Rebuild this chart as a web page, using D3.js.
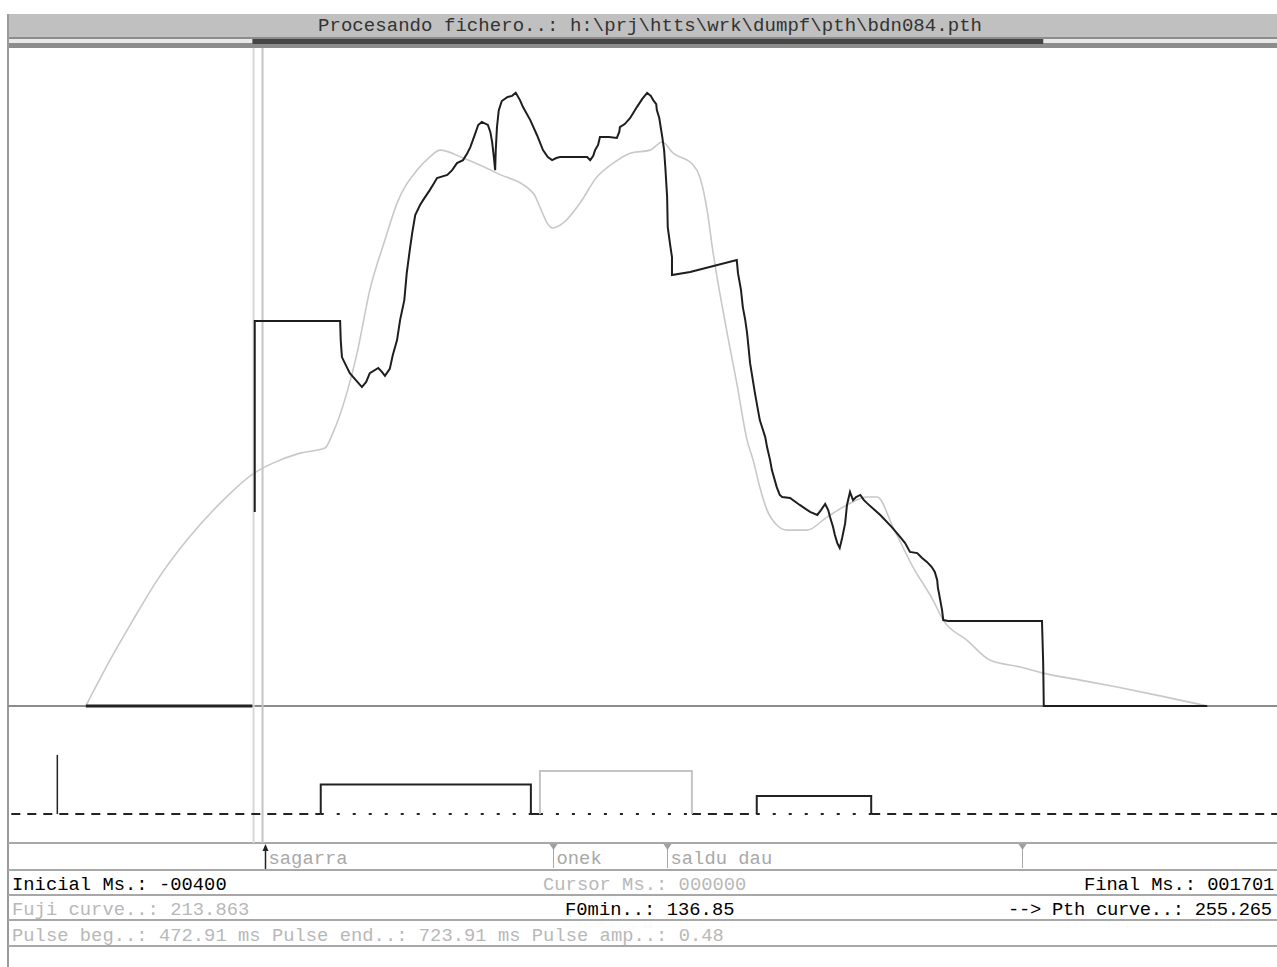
<!DOCTYPE html>
<html><head><meta charset="utf-8">
<script src="https://cdn.jsdelivr.net/npm/d3@7"></script>
<style>html,body{margin:0;padding:0;background:#fff;overflow:hidden}svg{display:block}</style>
</head><body>
<script>
// ---------- DATA ----------
const msDomain = [-400, 1701];          // Inicial Ms / Final Ms
const f0Min = 136.85;
const f0Max = 354;
const cursorMs = 0;
const titleText = "Procesando fichero..: h:\\prj\\htts\\wrk\\dumpf\\pth\\bdn084.pth";

// Pth curve (ms, Hz) – two drawn pieces
const pthLow = [[-277,136.85],[-2,136.85]];
const pthMain = [
[2,200.9],[2,263.9],[143,263.9],[144,257.6],[146,252.0],[153,249.1],[159,246.7],[169,244.4],[179,242.1],[186,243.8],[192,246.7],[206,248.4],[212,247.1],[217,245.8],[225,248.1],[230,252.7],[237,257.6],[242,264.2],[249,270.8],[253,279.7],[258,287.3],[262,292.9],[267,298.9],[275,302.2],[280,303.8],[291,307.1],[298,309.4],[303,311.1],[320,312.1],[328,313.7],[336,316.0],[346,317.0],[353,319.3],[358,321.3],[364,324.6],[371,328.6],[377,329.6],[387,328.6],[391,326.3],[394,323.0],[397,317.7],[399,313.7],[400,320.3],[402,327.9],[405,333.5],[410,336.5],[419,337.8],[427,338.2],[433,339.2],[440,336.8],[445,334.5],[457,330.2],[468,325.3],[478,320.3],[486,318.0],[493,317.0],[500,317.7],[506,318.0],[551,318.0],[556,317.0],[561,318.4],[564,320.3],[569,322.0],[572,324.6],[587,324.6],[600,324.3],[604,326.3],[605,327.9],[613,328.9],[622,330.9],[628,332.9],[633,334.5],[642,337.2],[650,339.2],[656,338.2],[660,336.8],[665,335.5],[666,333.5],[670,330.9],[675,324.6],[678,320.3],[680,314.7],[683,304.8],[684,294.9],[688,289.0],[691,285.0],[691,279.1],[721,280.1],[798,284.0],[800,279.7],[805,274.1],[808,268.5],[812,264.2],[815,260.0],[820,250.0],[828,240.1],[836,231.2],[845,225.6],[848,222.3],[853,218.0],[856,214.7],[864,209.1],[869,206.5],[873,205.8],[886,205.5],[902,203.2],[919,200.9],[931,199.9],[937,201.5],[944,203.5],[949,201.5],[952,199.2],[957,195.9],[960,193.3],[964,190.6],[968,189.0],[972,192.3],[977,197.2],[980,203.2],[985,207.5],[990,204.8],[995,205.8],[1002,206.5],[1008,204.8],[1013,203.8],[1035,199.9],[1054,195.9],[1068,192.6],[1076,190.6],[1084,187.7],[1096,187.3],[1104,185.7],[1112,184.4],[1120,182.7],[1125,181.1],[1129,178.4],[1130,176.1],[1134,171.8],[1137,168.5],[1139,165.2],[1147,164.9],[1302,164.9],[1304,151.0],[1305,136.85],[1575,136.85]
];

// Fujisaki curve (ms, Hz)
const fuji = [
[-277,136.85],[-237,152.0],[-199,165.2],[-159,178.4],[-110,191.6],[-50,204.8],[1,213.7],[32,217.0],[77,220.3],[118,222.0],[131,226.9],[154,240.1],[171,253.3],[192,274.1],[217,290.6],[237,302.8],[270,313.7],[291,318.0],[308,320.3],[346,317.7],[402,312.7],[462,306.1],[473,301.5],[485,296.2],[493,294.6],[511,296.2],[539,302.8],[567,311.4],[594,316.0],[622,319.3],[655,320.3],[675,323.0],[693,319.3],[726,315.4],[737,311.4],[749,300.5],[759,286.3],[770,273.1],[782,260.0],[798,243.4],[815,224.6],[825,218.0],[836,209.1],[848,201.5],[864,196.6],[881,194.9],[914,194.9],[947,199.2],[980,203.2],[1013,205.8],[1030,205.8],[1056,195.9],[1089,182.7],[1122,171.8],[1139,165.2],[1178,158.6],[1216,152.0],[1266,149.7],[1304,147.7],[1365,145.4],[1426,143.1],[1497,140.2],[1575,136.85]
];

// Commands (pulses / accent steps)
const pulseStart = [-324, 111, 472.91, 831];
const pulseEnd   = [-324, 458, 723.91, 1020];
const pulseAmp   = [0.66, 0.33, 0.48, 0.20];
const pulseKind  = ["phrase", "accent", "selected", "accent"];

// Segment labels
const segMs     = [19, 495, 683, 1269];
const segLabels = ["sagarra", "onek", "saldu dau", ""];
const segKind   = ["current", "mark", "mark", "mark"];

// Status values
const fujiValue = "213.863";
const pthValue = "255.265";
const f0minText = "136.85";
const pulseAmpSel = "0.48";

// ---------- DRAW ----------
const W = 1277, H = 967;
const FONT = "'Liberation Mono','DejaVu Sans Mono',monospace";
const CW = 11.3;

const svg = d3.select("body").append("svg").attr("width", W).attr("height", H);

const x = d3.scaleLinear().domain(msDomain).range([11.3, 1283.6]);
const y = d3.scaleLinear().domain([f0Min, f0Max]).range([706, 48]);
const yp = d3.scaleLinear().domain([0, 1]).range([814, 724.4]);

// title band
svg.append("rect").attr("x", 8).attr("y", 14).attr("width", W - 8).attr("height", 23).attr("fill", "#c0c0c0");
svg.append("text").attr("x", 318).attr("y", 31).attr("font-family", FONT).attr("font-size", 19)
  .attr("fill", "#333").attr("textLength", 664).attr("lengthAdjust", "spacing").text(titleText);

// scroll / range bar
svg.append("rect").attr("x", 8).attr("y", 37).attr("width", W - 8).attr("height", 11).attr("fill", "#8c8c8c");
svg.append("rect").attr("x", 8).attr("y", 39).attr("width", x(cursorMs) - 9).attr("height", 4).attr("fill", "#e8e8e8");
svg.append("rect").attr("x", x(1304)).attr("y", 39).attr("width", W - x(1304)).attr("height", 4).attr("fill", "#e8e8e8");
svg.append("rect").attr("x", x(cursorMs) - 1).attr("y", 39).attr("width", x(1304) - x(cursorMs) + 1).attr("height", 5).attr("fill", "#454545");

// left border
svg.append("rect").attr("x", 7).attr("y", 14).attr("width", 2).attr("height", H - 14).attr("fill", "#9a9a9a");

// horizontal separators
[706].forEach(v => svg.append("rect").attr("x", 8).attr("y", v - 1).attr("width", W - 8).attr("height", 2).attr("fill", "#8c8c8c"));
[843, 870, 895, 920, 946].forEach(v => svg.append("rect").attr("x", 8).attr("y", v - 1).attr("width", W - 8).attr("height", 2).attr("fill", "#a8a8a8"));

// cursor lines
svg.append("rect").attr("x", x(cursorMs) - 1).attr("y", 48).attr("width", 2).attr("height", 795).attr("fill", "#d8d8d8");
svg.append("rect").attr("x", x(cursorMs) + 8).attr("y", 48).attr("width", 2).attr("height", 795).attr("fill", "#c4c4c4");

// curves
const line = d3.line().x(d => x(d[0])).y(d => y(d[1]));
svg.append("path").attr("d", d3.line().x(d => x(d[0])).y(d => y(d[1])).curve(d3.curveMonotoneX)(fuji))
  .attr("fill", "none").attr("stroke", "#c8c8c8").attr("stroke-width", 1.6);
svg.append("path").attr("d", line(pthLow)).attr("fill", "none").attr("stroke", "#222").attr("stroke-width", 3);
svg.append("path").attr("d", line(pthMain)).attr("fill", "none").attr("stroke", "#1e1e1e").attr("stroke-width", 2).attr("stroke-linejoin", "miter");

// pulse baseline: dashed outside pulses, dotted inside
const base = yp(0);
const boxes = pulseStart.map((s, i) => ({s, e: pulseEnd[i], a: pulseAmp[i], k: pulseKind[i]})).filter(b => b.e > b.s);
let prev = msDomain[0];
boxes.slice().sort((a, b) => a.s - b.s).forEach(b => {
  svg.append("line").attr("x1", x(prev)).attr("x2", x(b.s)).attr("y1", base).attr("y2", base)
    .attr("stroke", "#222").attr("stroke-width", 2).attr("stroke-dasharray", "9,7");
  svg.append("line").attr("x1", x(b.s)).attr("x2", x(b.e)).attr("y1", base).attr("y2", base)
    .attr("stroke", "#222").attr("stroke-width", 2).attr("stroke-dasharray", "3,13");
  prev = b.e;
});
svg.append("line").attr("x1", x(prev)).attr("x2", x(msDomain[1])).attr("y1", base).attr("y2", base)
  .attr("stroke", "#222").attr("stroke-width", 2).attr("stroke-dasharray", "9,7");

// pulses
pulseStart.forEach((s, i) => {
  const e = pulseEnd[i], a = pulseAmp[i], k = pulseKind[i];
  if (e <= s) {
    svg.append("line").attr("x1", x(s)).attr("x2", x(s)).attr("y1", base).attr("y2", yp(a))
      .attr("stroke", "#222").attr("stroke-width", 1.5);
  } else {
    const p = d3.path();
    p.moveTo(x(s), base); p.lineTo(x(s), yp(a)); p.lineTo(x(e), yp(a)); p.lineTo(x(e), base);
    svg.append("path").attr("d", p.toString()).attr("fill", "none")
      .attr("stroke", k === "selected" ? "#c4c4c4" : "#222").attr("stroke-width", 2);
  }
});

// segment labels row
segMs.forEach((m, i) => {
  const px = Math.round(x(m)) + 0.5;
  if (segKind[i] === "current") {
    svg.append("line").attr("x1", px).attr("x2", px).attr("y1", 849).attr("y2", 869).attr("stroke", "#222").attr("stroke-width", 1.5);
    svg.append("path").attr("d", `M${px - 3},851L${px + 3},851L${px},844Z`).attr("fill", "#222");
  } else {
    svg.append("line").attr("x1", px).attr("x2", px).attr("y1", 845).attr("y2", 868).attr("stroke", "#a8a8a8").attr("stroke-width", 1);
    svg.append("path").attr("d", `M${px - 4},844L${px + 4},844L${px},850Z`).attr("fill", "#a0a0a0");
  }
  if (segLabels[i]) {
    svg.append("text").attr("x", px + 3).attr("y", 864).attr("font-family", FONT).attr("font-size", 18.8)
      .attr("fill", "#a8a8a8").attr("textLength", segLabels[i].length * CW).attr("lengthAdjust", "spacing").text(segLabels[i]);
  }
});

// status rows
const selIdx = pulseKind.indexOf("selected");
const rows = [
  {t: "Inicial Ms.: " + (msDomain[0] < 0 ? "-" : "") + String(Math.abs(msDomain[0])).padStart(5, "0"), x: 12, y: 890, c: "#000", cw: CW},
  {t: "Cursor Ms.: " + String(cursorMs).padStart(6, "0"), x: 543, y: 890, c: "#b8b8b8", cw: CW},
  {t: "Final Ms.: " + String(msDomain[1]).padStart(6, "0"), x: 1084, y: 890, c: "#000", cw: 11.2},
  {t: "Fuji curve..: " + fujiValue, x: 12, y: 915, c: "#b8b8b8", cw: CW},
  {t: "F0min..: " + f0minText, x: 565, y: 915, c: "#000", cw: CW},
  {t: "--> Pth curve..: " + pthValue, x: 1008, y: 915, c: "#000", cw: 11.0},
  {t: "Pulse beg..: " + pulseStart[selIdx].toFixed(2) + " ms Pulse end..: " + pulseEnd[selIdx].toFixed(2) + " ms Pulse amp..: " + pulseAmpSel, x: 12, y: 941, c: "#b8b8b8", cw: CW}
];
rows.forEach(r => {
  svg.append("text").attr("x", r.x).attr("y", r.y).attr("font-family", FONT).attr("font-size", 18.8)
    .attr("fill", r.c).attr("textLength", r.t.length * r.cw).attr("lengthAdjust", "spacing").text(r.t);
});
</script>
</body></html>
